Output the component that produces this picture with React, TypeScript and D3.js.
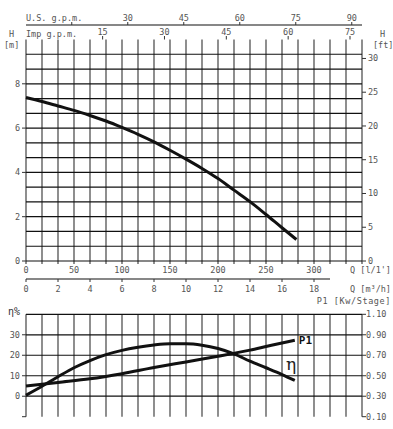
import * as d3 from 'd3';

// flow in m3/h, head in m
const headFlow = [0, 1, 2, 3, 4, 5, 6, 7, 8, 9, 10, 11, 12, 13, 14, 15, 16, 16.9];
const headM = [7.38, 7.2, 7.0, 6.8, 6.57, 6.32, 6.03, 5.72, 5.38, 5.0, 4.6, 4.18, 3.72, 3.2, 2.68, 2.1, 1.5, 0.97];

const effFlow = [0, 1, 2, 3, 4, 5, 6, 7, 8, 9, 10, 11, 12, 13, 14, 15, 16, 16.8];
const effPct = [0.5, 4.9, 9.5, 13.9, 17.4, 20.3, 22.4, 23.9, 25, 25.6, 25.6, 24.9, 23.3, 20.7, 17.1, 13.9, 10.6, 7.7];

const powFlow = [0, 2, 4, 6, 8, 10, 12, 14, 15, 16, 16.8];
const powKw = [0.4, 0.435, 0.47, 0.52, 0.58, 0.635, 0.69, 0.75, 0.785, 0.82, 0.846];

const lpmTicks = [0, 50, 100, 150, 200, 250, 300];
const m3hTicks = [0, 2, 4, 6, 8, 10, 12, 14, 16, 18];
const usTicks = [15, 30, 45, 60, 75, 90];
const impTicks = [15, 30, 45, 60, 75];
const mTicks = [0, 2, 4, 6, 8];
const ftTicks = [0, 5, 10, 15, 20, 25, 30];
const effTicks = [0, 10, 20, 30];
const powTicks = [0.1, 0.3, 0.5, 0.7, 0.9, 1.1];

const FONT = '"DejaVu Sans Mono", monospace';
const TXT = '#555';

export default function App() {
  const W = 393;
  const H = 429;

  const x = d3.scaleLinear().domain([0, 21]).range([26, 362]);
  const xL = d3.scaleLinear().domain([0, 350]).range([x(0), x(21)]); // l/min
  const xUS = d3.scaleLinear().domain([30, 90]).range([x(6.36), x(20.36)]);
  const xImp = d3.scaleLinear().domain([15, 75]).range([x(4.79), x(20.25)]);

  const yH = d3.scaleLinear().domain([0, 10]).range([261, 39.5]);
  const yEff = d3.scaleLinear().domain([-10, 40]).range([416.7, 314.3]);
  const yPow = d3.scaleLinear().domain([0.1, 1.1]).range([416.7, 314.3]);

  const hRows = d3.range(1, 15).map((i) => (i * 2) / 3);
  const cols = d3.range(0, 22);

  const headLine = d3
    .line<number>()
    .x((_, i) => x(headFlow[i]))
    .y((d) => yH(d))
    .curve(d3.curveMonotoneX);
  const effLine = d3
    .line<number>()
    .x((_, i) => x(effFlow[i]))
    .y((d) => yEff(d))
    .curve(d3.curveMonotoneX);
  const powLine = d3
    .line<number>()
    .x((_, i) => x(powFlow[i]))
    .y((d) => yPow(d))
    .curve(d3.curveMonotoneX);

  const txt = { fontFamily: FONT, fontSize: 8.5, fill: TXT } as const;

  return (
    <svg
      width={W}
      height={H}
      style={{ position: 'absolute', left: 0, top: 0, background: '#fff' }}
    >
      {/* top axes: gpm */}
      <text x={x(0)} y={21} {...txt}>U.S. g.p.m.</text>
      <line x1={x(0)} x2={x(21)} y1={25} y2={25} stroke="#111" strokeWidth={1.2} />
      {usTicks.map((t) => (
        <g key={'us' + t}>
          <line x1={xUS(t)} x2={xUS(t)} y1={22} y2={25} stroke="#333" />
          {t > 15 && (
            <text x={xUS(t)} y={21} textAnchor="middle" {...txt}>{t}</text>
          )}
        </g>
      ))}
      <text x={9} y={37} {...txt}>H</text>
      <text x={x(0)} y={37} {...txt}>Imp g.p.m.</text>
      {impTicks.map((t) => (
        <g key={'imp' + t}>
          <line x1={xImp(t)} x2={xImp(t)} y1={36} y2={39.5} stroke="#333" />
          <text x={xImp(t)} y={35} textAnchor="middle" {...txt}>{t}</text>
        </g>
      ))}
      <text x={4} y={48} {...txt}>[m]</text>
      <text x={380} y={37} {...txt}>H</text>
      <text x={373} y={48} {...txt}>[ft]</text>

      {/* top grid */}
      {cols.map((c) => (
        <line key={'v' + c} x1={x(c)} x2={x(c)} y1={yH(10)} y2={yH(0) + 3} stroke="#444" strokeWidth={1.2} />
      ))}
      {hRows.map((r) => (
        <line key={'h' + r} x1={x(0)} x2={x(21)} y1={yH(r)} y2={yH(r)} stroke="#111" strokeWidth={1.2} />
      ))}
      <line x1={x(0)} x2={x(21)} y1={yH(0)} y2={yH(0)} stroke="#111" strokeWidth={1.2} />
      {mTicks.map((t) => (
        <g key={'m' + t}>
          <line x1={x(0) - 4} x2={x(0)} y1={yH(t)} y2={yH(t)} stroke="#333" />
          <text x={20} y={yH(t) + 3} textAnchor="end" {...txt}>{t}</text>
        </g>
      ))}
      {ftTicks.map((t) => (
        <g key={'ft' + t}>
          <line x1={x(21)} x2={x(21) + 4} y1={yH(t * 0.3048)} y2={yH(t * 0.3048)} stroke="#333" />
          <text x={368} y={yH(t * 0.3048) + 3} {...txt}>{t}</text>
        </g>
      ))}
      <path d={headLine(headM) ?? ''} fill="none" stroke="#111" strokeWidth={3} />

      {/* bottom axes of top chart */}
      {lpmTicks.map((t) => (
        <text key={'l' + t} x={xL(t)} y={273} textAnchor="middle" {...txt}>{t}</text>
      ))}
      <text x={391} y={273} textAnchor="end" {...txt}>Q [l/1']</text>
      <line x1={x(0)} x2={x(19)} y1={279} y2={279} stroke="#111" strokeWidth={1.2} />
      {m3hTicks.map((t) => (
        <g key={'q' + t}>
          <line x1={x(t)} x2={x(t)} y1={279} y2={282} stroke="#333" />
          <text x={x(t)} y={292} textAnchor="middle" {...txt}>{t}</text>
        </g>
      ))}
      <text x={391} y={292} textAnchor="end" {...txt}>Q [m³/h]</text>
      <text x={391} y={304} textAnchor="end" {...txt} letterSpacing={0.6}>P1 [Kw/Stage]</text>

      {/* lower chart */}
      <text x={8} y={315} {...txt} fontSize={10} fill="#333">η%</text>
      {cols.map((c) => (
        <line key={'lv' + c} x1={x(c)} x2={x(c)} y1={yEff(40)} y2={yEff(-10)} stroke="#444" strokeWidth={1.2} />
      ))}
      {[40, 30, 20, 10, 0].map((r) => (
        <line key={'lh' + r} x1={x(0)} x2={x(21)} y1={yEff(r)} y2={yEff(r)} stroke="#111" strokeWidth={1.2} />
      ))}
      <line x1={x(0) - 4} x2={x(0)} y1={yEff(-10)} y2={yEff(-10)} stroke="#333" />
      {effTicks.map((t) => (
        <g key={'e' + t}>
          <line x1={x(0) - 4} x2={x(0)} y1={yEff(t)} y2={yEff(t)} stroke="#333" />
          <text x={20} y={yEff(t) + 3} textAnchor="end" {...txt}>{t}</text>
        </g>
      ))}
      {powTicks.map((t) => (
        <g key={'p' + t}>
          <line x1={x(21)} x2={x(21) + 4} y1={yPow(t)} y2={yPow(t)} stroke="#333" />
          <text x={366} y={yPow(t) + 3} {...txt}>{t.toFixed(2)}</text>
        </g>
      ))}
      <path d={effLine(effPct) ?? ''} fill="none" stroke="#111" strokeWidth={3} />
      <path d={powLine(powKw) ?? ''} fill="none" stroke="#111" strokeWidth={3} />
      <text
        x={x(powFlow[powFlow.length - 1]) + 4}
        y={yPow(powKw[powKw.length - 1]) + 4}
        fontFamily={FONT}
        fontSize={11}
        fontWeight="bold"
        fill="#111"
      >
        P1
      </text>
      <text x={286} y={370} fontFamily='"DejaVu Serif", serif' fontSize={17} fill="#222">η</text>
    </svg>
  );
}
